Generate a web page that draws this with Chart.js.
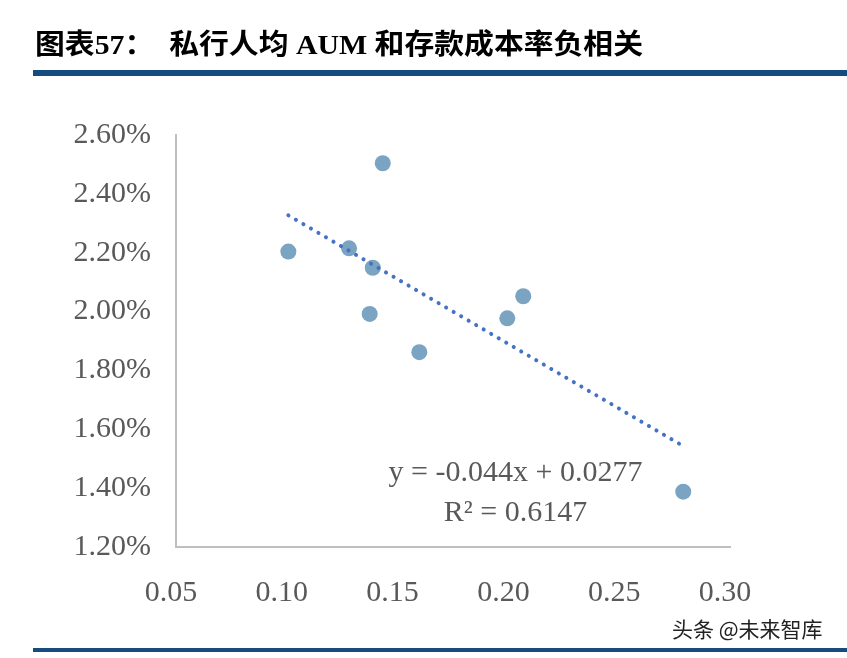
<!DOCTYPE html>
<html>
<head>
<meta charset="utf-8">
<script src="https://cdn.jsdelivr.net/npm/chart.js@4"></script>
<style>
    html, body { margin: 0; padding: 0; background: #fff; }
    #page { position: relative; width: 847px; height: 658px; overflow: hidden; }
    #wrap { position: absolute; left: 0; top: 0; width: 847px; height: 658px; }
    .title {
        position: absolute; left: 35px; top: 29px;
        font: bold 28px "Liberation Serif", "Noto Sans CJK SC", serif;
        line-height: 32px; color: #000; white-space: pre;
        transform: scaleX(1.065); transform-origin: left top;
    }
    .rule { position: absolute; left: 33px; right: 0; background: #154b7e; }
    .mark {
        position: absolute; left: 672px; top: 613px;
        font: 21px "Noto Sans CJK SC", sans-serif; color: #222; white-space: pre;
    }
</style>
</head>
<body>
<div id="page">
    <div id="wrap"><canvas id="chart"></canvas></div>
    <div class="title">图表57：  私行人均 AUM 和存款成本率负相关</div>
    <div class="rule" style="top:70px;height:6px;"></div>
    <div class="rule" style="top:648px;height:4px;"></div>
    <div class="mark">头条 @未来智库</div>
</div>
<script>
// 散点：私行人均 AUM（x）与存款成本率（y）
const aumPerClient = [0.1007, 0.1281, 0.1433, 0.1388, 0.1374, 0.1598, 0.1995, 0.2067, 0.2789];
const depositCost  = [0.02204, 0.02215, 0.02504, 0.02149, 0.01992, 0.01862, 0.01977, 0.02052, 0.01388];

// 趋势线两端
const trendX = [0.1007, 0.2775];
const trendY = [0.02327, 0.01549];

const xTicks = [0.05, 0.10, 0.15, 0.20, 0.25, 0.30];
const yTicks = [0.012, 0.014, 0.016, 0.018, 0.020, 0.022, 0.024, 0.026];

const eqLines = ["y = -0.044x + 0.0277", "R² = 0.6147"];

const tickFont = { family: "Liberation Serif", size: 30 };
const tickColor = "#595959";

// 趋势线公式文字
const equationLabel = {
    id: "equationLabel",
    afterDatasetsDraw(chart) {
        const { ctx, scales: { x, y } } = chart;
        ctx.save();
        ctx.font = "30px 'Liberation Serif'";
        ctx.fillStyle = tickColor;
        ctx.textAlign = "center";
        ctx.textBaseline = "middle";
        ctx.fillText(eqLines[0], x.getPixelForValue(0.2032), y.getPixelForValue(0.01450));
        ctx.fillText(eqLines[1], x.getPixelForValue(0.2032), y.getPixelForValue(0.01314));
        ctx.restore();
    }
};

const pointData = aumPerClient.map((v, i) => ({ x: v, y: depositCost[i] }));
const trendData = trendX.map((v, i) => ({ x: v, y: trendY[i] }));

new Chart(document.getElementById("chart"), {
    type: "scatter",
    data: {
        datasets: [
            {
                type: "line",
                data: trendData,
                borderColor: "#4472c4",
                borderWidth: 4,
                borderDash: [0.1, 8.6],
                borderCapStyle: "round",
                pointRadius: 0,
                fill: false,
                order: 0
            },
            {
                data: pointData,
                backgroundColor: "#7ba3c2",
                borderWidth: 0,
                pointRadius: 8,
                pointHoverRadius: 8,
                clip: false,
                order: 1
            }
        ]
    },
    options: {
        responsive: true,
        maintainAspectRatio: false,
        animation: false,
        layout: { padding: { top: 135, right: 117, bottom: 0, left: 0 } },
        plugins: { legend: { display: false }, tooltip: { enabled: false } },
        scales: {
            x: {
                type: "linear",
                min: xTicks[0],
                max: xTicks[xTicks.length - 1],
                afterBuildTicks: s => { s.ticks = xTicks.map(v => ({ value: v })); },
                afterFit: s => { s.height = 111; },
                grid: { drawOnChartArea: false, drawTicks: false },
                border: { color: "#bfbfbf", width: 2 },
                ticks: {
                    font: tickFont, color: tickColor, padding: 28, maxRotation: 0,
                    labelOffset: -5,
                    callback: v => v.toFixed(2)
                }
            },
            y: {
                type: "linear",
                min: yTicks[0],
                max: yTicks[yTicks.length - 1],
                afterBuildTicks: s => { s.ticks = yTicks.map(v => ({ value: v })); },
                afterFit: s => { s.width = 176; },
                grid: { drawOnChartArea: false, drawTicks: false },
                border: { color: "#bfbfbf", width: 2 },
                ticks: {
                    font: tickFont, color: tickColor, padding: 25,
                    callback: v => (v * 100).toFixed(2) + "%"
                }
            }
        }
    },
    plugins: [equationLabel]
});
</script>
</body>
</html>
